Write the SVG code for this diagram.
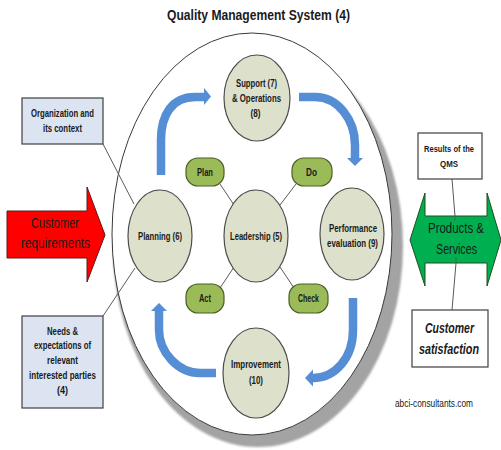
<svg xmlns="http://www.w3.org/2000/svg" width="501" height="450" viewBox="0 0 501 450">
<defs>
<filter id="soft" x="-10%" y="-10%" width="120%" height="120%"><feGaussianBlur stdDeviation="1"/></filter>
</defs>
<style>
text{font-family:"Liberation Sans",Arial,sans-serif;font-weight:bold;fill:#1a1a1a;text-anchor:middle}
.node{fill:#dde0ca;stroke:#4d4d4d;stroke-width:1.2}
.pdca{fill:#9bbb59;stroke:#4a5e25;stroke-width:1.2}
.box{fill:#dbe4f0;stroke:#3f3f3f;stroke-width:1.2}
.wbox{fill:#ffffff;stroke:#3f3f3f;stroke-width:1.2}
.ln{stroke:#5a5a5a;stroke-width:1;fill:none}
.arc{stroke:#558ed5;stroke-width:8.5;fill:none}
.head{fill:#558ed5}
.t10{font-size:10px}
.big{font-size:15px;font-weight:normal}
</style>
<rect width="501" height="450" fill="#ffffff"/>
<text x="258.5" y="20" font-size="14" textLength="183" lengthAdjust="spacingAndGlyphs">Quality Management System (4)</text>

<g id="qms-boundary">
<ellipse cx="258" cy="246" rx="145" ry="201" fill="#a3a3a3" filter="url(#soft)"/>
<ellipse cx="252" cy="234" rx="140" ry="201" fill="#ffffff" stroke="#3a3a3a" stroke-width="1"/>
</g>

<g id="connectors">
<line class="ln" x1="103" y1="144" x2="134" y2="204"/>
<line class="ln" x1="103" y1="316" x2="135" y2="268"/>
<line class="ln" x1="220" y1="184" x2="234" y2="205"/>
<line class="ln" x1="296" y1="184" x2="280" y2="205"/>
<line class="ln" x1="220" y1="288" x2="234" y2="267"/>
<line class="ln" x1="294" y1="288" x2="280" y2="267"/>
<line class="ln" x1="452" y1="179" x2="455" y2="216"/>
<line class="ln" x1="456" y1="263" x2="452" y2="310"/>
<path class="arc" d="M161,175 L161,140 C161,115 172,97 195,97 L205,97"/>
<polygon class="head" points="204,88 211,96.5 204,105"/>
<path class="arc" d="M299,97 L315,97 C338,97 355,120 355,145 L355,159"/>
<polygon class="head" points="347,158 363,158 355,166"/>
<path class="arc" d="M353,298 L353,330 C353,358 335,378 313,378 L312,378"/>
<polygon class="head" points="313,369.5 313,386.5 305,378"/>
<path class="arc" d="M216,373 L200,373 C178,373 159,352 159,330 L159,311"/>
<polygon class="head" points="151,311 167,311 159,303"/>
</g>

<g id="org-context">
<rect class="box" x="22" y="98" width="81" height="46"/>
<text class="t10" x="62.5" y="117" textLength="63" lengthAdjust="spacingAndGlyphs">Organization and</text>
<text class="t10" x="62.5" y="132" textLength="39" lengthAdjust="spacingAndGlyphs">its context</text>
</g>

<g id="needs-expectations">
<rect class="box" x="22" y="316" width="81" height="92"/>
<text class="t10" x="62.5" y="335" textLength="31" lengthAdjust="spacingAndGlyphs">Needs &amp;</text>
<text class="t10" x="62.5" y="349" textLength="57" lengthAdjust="spacingAndGlyphs">expectations of</text>
<text class="t10" x="62.5" y="364" textLength="31" lengthAdjust="spacingAndGlyphs">relevant</text>
<text class="t10" x="62.5" y="379" textLength="67" lengthAdjust="spacingAndGlyphs">interested parties</text>
<text class="t10" x="62.5" y="394" textLength="11" lengthAdjust="spacingAndGlyphs">(4)</text>
</g>

<g id="customer-requirements">
<polygon points="7,211 87,211 87,187 105,235 87,282 87,258 7,258" fill="#ff0000" stroke="#5a1a1a" stroke-width="1"/>
<text class="big" x="55" y="228" fill="#1a0000" textLength="48" lengthAdjust="spacingAndGlyphs">Customer</text>
<text class="big" x="55.5" y="248" fill="#1a0000" textLength="69" lengthAdjust="spacingAndGlyphs">requirements</text>
</g>

<g id="support-operations">
<ellipse class="node" cx="257" cy="98" rx="33" ry="43"/>
<text class="t10" x="256.5" y="87" textLength="41" lengthAdjust="spacingAndGlyphs">Support (7)</text>
<text class="t10" x="256.5" y="102" textLength="49" lengthAdjust="spacingAndGlyphs">&amp; Operations</text>
<text class="t10" x="255.5" y="117" textLength="10" lengthAdjust="spacingAndGlyphs">(8)</text>
</g>

<g id="planning">
<ellipse class="node" cx="160" cy="236" rx="32" ry="46"/>
<text class="t10" x="160" y="240" textLength="44" lengthAdjust="spacingAndGlyphs">Planning (6)</text>
</g>

<g id="leadership">
<ellipse class="node" cx="256" cy="236" rx="32" ry="46"/>
<text class="t10" x="256" y="240" textLength="52" lengthAdjust="spacingAndGlyphs">Leadership (5)</text>
</g>

<g id="performance-evaluation">
<ellipse class="node" cx="352" cy="234" rx="32" ry="46"/>
<text class="t10" x="353" y="232" textLength="48" lengthAdjust="spacingAndGlyphs">Performance</text>
<text class="t10" x="352.5" y="247" textLength="51" lengthAdjust="spacingAndGlyphs">evaluation (9)</text>
</g>

<g id="improvement">
<ellipse class="node" cx="256" cy="373" rx="33" ry="45"/>
<text class="t10" x="256" y="368" textLength="50" lengthAdjust="spacingAndGlyphs">Improvement</text>
<text class="t10" x="256" y="384" textLength="14" lengthAdjust="spacingAndGlyphs">(10)</text>
</g>

<g id="plan">
<rect class="pdca" x="186" y="158" width="38" height="28" rx="12"/>
<text class="t10" x="205" y="176" textLength="16" lengthAdjust="spacingAndGlyphs">Plan</text>
</g>
<g id="do">
<rect class="pdca" x="292" y="158" width="40" height="28" rx="12"/>
<text class="t10" x="311.5" y="176" textLength="11" lengthAdjust="spacingAndGlyphs">Do</text>
</g>
<g id="act">
<rect class="pdca" x="186" y="284" width="38" height="29" rx="12"/>
<text class="t10" x="205" y="302" textLength="12" lengthAdjust="spacingAndGlyphs">Act</text>
</g>
<g id="check">
<rect class="pdca" x="289" y="284" width="39" height="29" rx="12"/>
<text class="t10" x="308.5" y="302" textLength="21" lengthAdjust="spacingAndGlyphs">Check</text>
</g>

<g id="results-qms">
<rect class="wbox" x="418" y="133" width="64" height="46"/>
<text x="449" y="152" font-size="9.5" textLength="50" lengthAdjust="spacingAndGlyphs">Results of the</text>
<text x="449" y="167" font-size="9.5" textLength="18" lengthAdjust="spacingAndGlyphs">QMS</text>
</g>

<g id="products-services">
<polygon points="410,240 425,193 425,216 487,216 487,193 501,240 487,286 487,263 425,263 425,286" fill="#00b050" stroke="#1f4d1f" stroke-width="1"/>
<line class="ln" x1="455" y1="216" x2="455" y2="221"/>
<line class="ln" x1="456" y1="257" x2="456" y2="263"/>
<text class="big" x="456" y="233" fill="#0d1a0d" textLength="56" lengthAdjust="spacingAndGlyphs">Products &amp;</text>
<text class="big" x="456.5" y="254" fill="#0d1a0d" textLength="41" lengthAdjust="spacingAndGlyphs">Services</text>
</g>

<g id="customer-satisfaction">
<rect class="wbox" x="412" y="310" width="76" height="57"/>
<text x="449.5" y="333" font-size="15" font-style="italic" textLength="49" lengthAdjust="spacingAndGlyphs">Customer</text>
<text x="449" y="354" font-size="15" font-style="italic" textLength="60" lengthAdjust="spacingAndGlyphs">satisfaction</text>
</g>

<text x="434" y="407" font-size="10" style="font-weight:normal" textLength="78" lengthAdjust="spacingAndGlyphs">abci-consultants.com</text>
</svg>
